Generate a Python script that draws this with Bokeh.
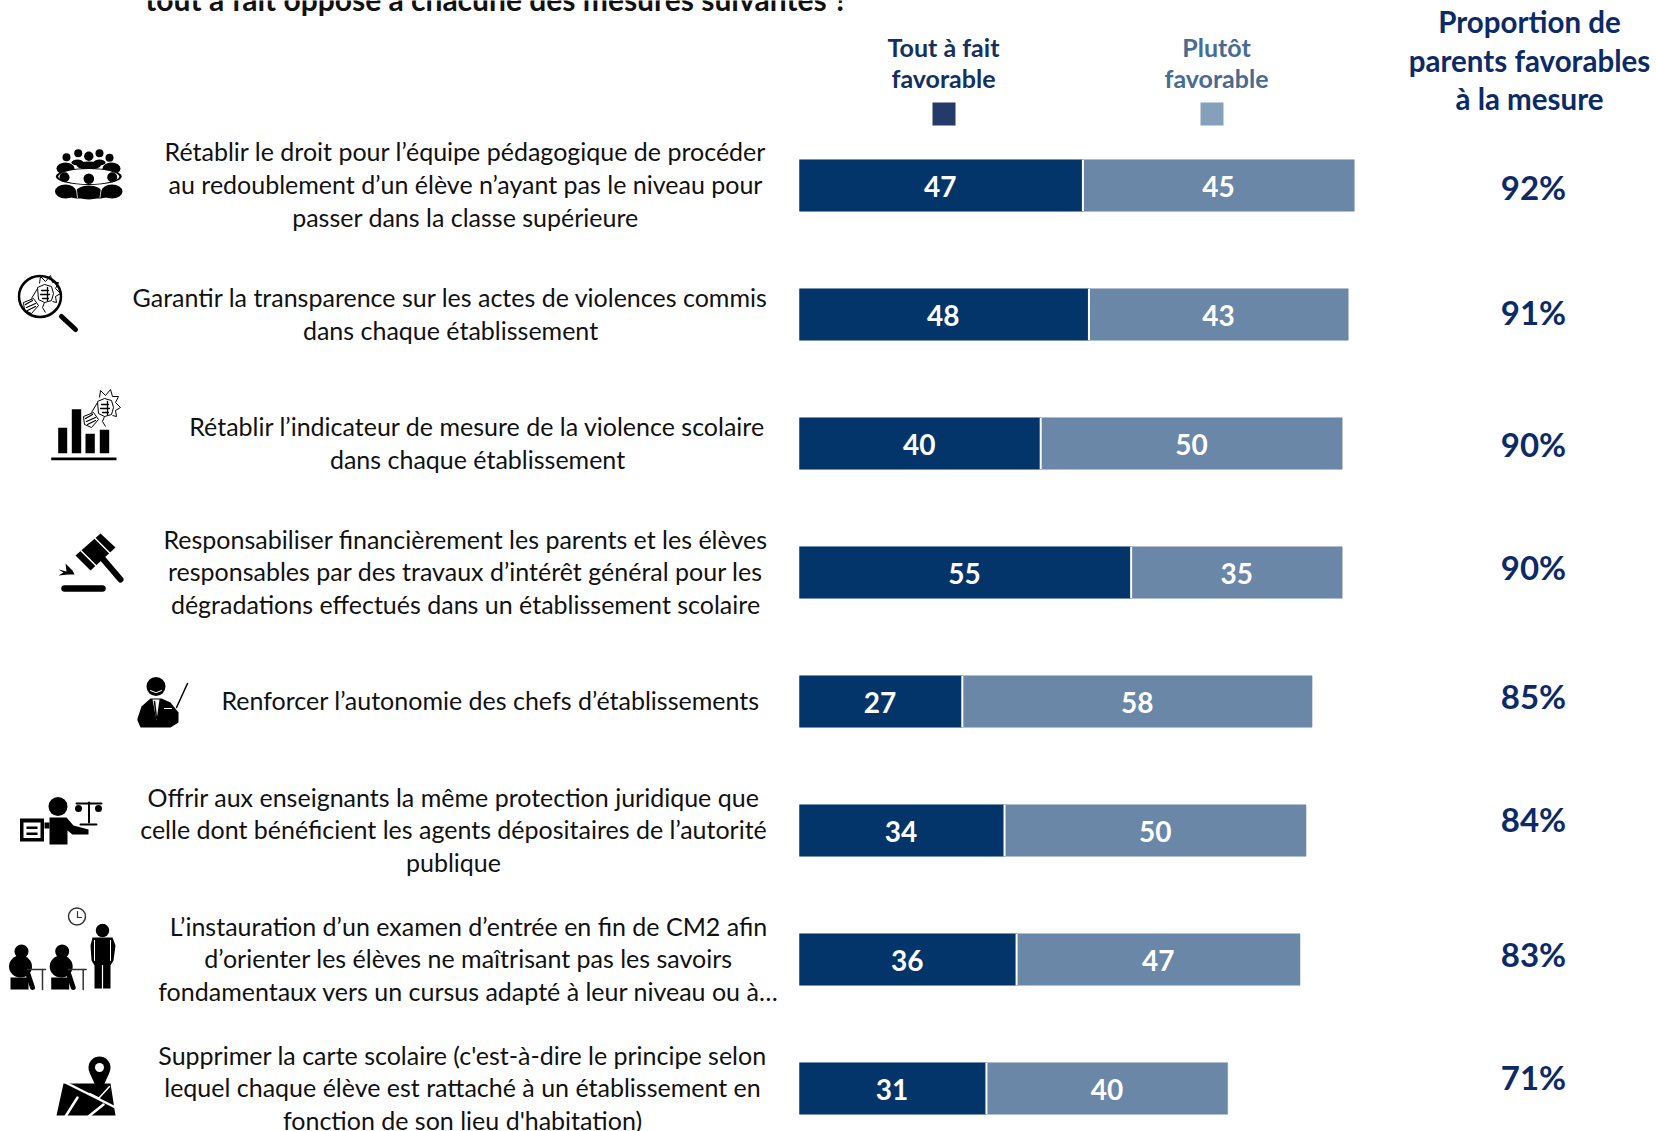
from bokeh.plotting import figure
from bokeh.embed import file_html
from bokeh.resources import INLINE
from bokeh.core.properties import value
from bokeh.models import Range1d

# ---- data ----
tout_a_fait = [47, 48, 40, 55, 27, 34, 36, 31]
plutot = [45, 43, 50, 35, 58, 50, 47, 40]
proportion = [92, 91, 90, 90, 85, 84, 83, 71]
measures = [
    ["Rétablir le droit pour l’équipe pédagogique de procéder",
     "au redoublement d’un élève n’ayant pas le niveau pour",
     "passer dans la classe supérieure"],
    ["Garantir la transparence sur les actes de violences commis",
     "dans chaque établissement"],
    ["Rétablir l’indicateur de mesure de la violence scolaire",
     "dans chaque établissement"],
    ["Responsabiliser financièrement les parents et les élèves",
     "responsables par des travaux d’intérêt général pour les",
     "dégradations effectués dans un établissement scolaire"],
    ["Renforcer l’autonomie des chefs d’établissements"],
    ["Offrir aux enseignants la même protection juridique que",
     "celle dont bénéficient les agents dépositaires de l’autorité",
     "publique"],
    ["L’instauration d’un examen d’entrée en fin de CM2 afin",
     "d’orienter les élèves ne maîtrisant pas les savoirs",
     "fondamentaux vers un cursus adapté à leur niveau ou à…"],
    ["Supprimer la carte scolaire (c'est-à-dire le principe selon",
     "lequel chaque élève est rattaché à un établissement en",
     "fonction de son lieu d'habitation)"],
]
title_text = "tout à fait opposé à chacune des mesures suivantes ?"
legend_dark = ["Tout à fait", "favorable"]
legend_light = ["Plutôt", "favorable"]
header_right = ["Proportion de", "parents favorables", "à la mesure"]

# ---- layout (pixels of the page) ----
W, H = 1656, 1131
X0, UNIT = 799.0, 6.03
Y0, PITCH = 185.0, 129.0
line_centre_x = [465, 450, 477, 465, 490, 453, 468, 462]
line_ys = [[150, 183, 216], [296, 329], [425, 458], [538, 570, 603], [699],
           [796, 828, 861], [925, 957, 990], [1054, 1086, 1119]]
pct_y = [186, 311, 443, 566, 695, 818, 953, 1076]

DARK, LIGHT = "#03356a", "#6a87a8"
NAVY = "#0b2a66"
FONT = value("Lato")

p = figure(width=W, height=H, output_backend="svg", toolbar_location=None,
           x_range=Range1d(-X0 / UNIT, (W - X0) / UNIT),
           y_range=Range1d((H - Y0) / PITCH, -Y0 / PITCH),
           min_border=0, outline_line_color=None)
p.axis.visible = False
p.grid.visible = False
p.background_fill_color = "white"
p.extra_x_ranges["px"] = Range1d(0, W)
p.extra_y_ranges["px"] = Range1d(H, 0)
PX = dict(x_range_name="px", y_range_name="px")

rows = list(range(len(tout_a_fait)))
BAR_H = 51.5 / PITCH
p.hbar(y=rows, left=0, right=tout_a_fait, height=BAR_H, fill_color=DARK,
       line_color=DARK, line_width=0.5)
p.hbar(y=rows, left=tout_a_fait, right=[a + b for a, b in zip(tout_a_fait, plutot)],
       height=BAR_H, fill_color=LIGHT, line_color=LIGHT, line_width=0.5)
p.segment(x0=tout_a_fait, x1=tout_a_fait, y0=[r - BAR_H / 2 for r in rows],
          y1=[r + BAR_H / 2 for r in rows], line_color="white", line_width=2)

val_style = dict(text_font=FONT, text_font_style="bold", text_font_size="28px",
                 text_color="white", text_align="center", text_baseline="middle")
p.text(x=[a / 2 - 0.15 for a in tout_a_fait], y=[r + 0.01 for r in rows],
       text=[str(a) for a in tout_a_fait], **val_style)
p.text(x=[a + b / 2 for a, b in zip(tout_a_fait, plutot)], y=[r + 0.01 for r in rows],
       text=[str(b) for b in plutot], **val_style)


def txt(xs, ys, texts, size, color, bold=False, align="center", baseline="middle"):
    p.text(x=xs, y=ys, text=texts, text_font=FONT, text_font_size=f"{size}px",
           text_color=color, text_font_style="bold" if bold else "normal",
           text_align=align, text_baseline=baseline, **PX)


for i, lines in enumerate(measures):
    txt([line_centre_x[i]] * len(lines), line_ys[i], lines, 25, "#111111")

txt([1533] * 8, pct_y, [f"{v}%" for v in proportion], 33, NAVY, bold=True)
txt([1529] * 3, [21, 60, 98], header_right, 29.5, NAVY, bold=True)
txt([943] * 2, [46, 77], legend_dark, 25, "#14305f", bold=True)
txt([1216] * 2, [46, 77], legend_light, 25, "#476b92", bold=True)
txt([496], [-2], [title_text], 30, "#111111", bold=True, baseline="alphabetic")

# legend squares (page pixels)
p.quad(left=[932], right=[955], top=[102], bottom=[125], fill_color="#243a6b", line_color=None, **PX)
p.quad(left=[1200], right=[1223], top=[102], bottom=[125], fill_color="#84a0ba", line_color=None, **PX)

# ---- pictograms ----
K = "#000000"


def circ(x, y, r, color=K, rx=None):
    p.ellipse(x=[x], y=[y], width=[2 * (rx or r)], height=[2 * r], fill_color=color,
              line_color=None, **PX)


def poly(xs, ys, color=K):
    p.patch(x=xs, y=ys, fill_color=color, line_color=None, **PX)


def seg(x0, y0, x1, y1, w=2.0, color=K):
    p.line(x=[x0, x1], y=[y0, y1], line_color=color, line_width=w, line_cap="round", **PX)


def rect(x0, y0, x1, y1, color=K):
    p.quad(left=[x0], right=[x1], top=[y0], bottom=[y1], fill_color=color, line_color=None, **PX)


def path(cx, cy, pts, w=1.0):
    p.line(x=[cx + a for a, _ in pts], y=[cy + b for _, b in pts], line_color=K, line_width=w, **PX)


def fist(cx, cy):
    path(cx, cy, [(-7, -6), (0, -9), (7, -7), (9, 0), (7, 7), (0, 9), (-6, 6), (-7, -6)])
    for a, b, c, d in [(-3, -3, 4, -3), (-4, 1, 5, 1), (-2, 5, 4, 5), (3, -6, 3, 7)]:
        seg(cx + a, cy + b, cx + c, cy + d, 1.3)
    path(cx, cy, [(-5, -10), (-4, -17), (1, -12), (6, -18), (8, -11), (14, -11),
                  (11, -5), (16, 0), (11, 3), (12, 9), (8, 8)])
    path(cx, cy, [(-7, -5), (-13, 5)])
    path(cx, cy, [(0, 9), (-2, 14), (1, 19)])
    path(cx, cy, [(-21, 9), (-11, 5), (-6, 12), (-13, 20), (-20, 17), (-21, 9)])
    for a, b, c, d in [(-19, 11, -12, 7), (-18, 14, -9, 10), (-17, 17, -9, 13)]:
        seg(cx + a, cy + b, cx + c, cy + d, 1.2)


# 1: people around a table
for hx, hy, hr in [(66, 156.7, 4), (77.7, 152.7, 4), (88.3, 155.7, 4.7), (99, 152.7, 4), (109, 157.3, 4)]:
    circ(hx, hy, hr)
circ(65, 168, 6, rx=9); circ(111, 168, 6, rx=9); circ(88.3, 165, 4, rx=12)
circ(77, 162, 3, rx=6); circ(99, 162, 3, rx=6)
circ(88.3, 176, 8.5, rx=33)
circ(88.3, 176, 7.5, "white", rx=30.5)
for hx, hy, hr in [(64, 176.7, 5), (88.3, 178.3, 5.3), (111.7, 176.7, 5)]:
    circ(hx, hy, hr)
circ(65, 191, 7, rx=10.5); circ(111.5, 191, 7, rx=10.5); circ(88.3, 192, 7, rx=13)
poly([56, 120, 112, 100, 76, 64], [190, 190, 196, 198, 198, 196])
seg(75.5, 186, 77, 197, 0.8, "white"); seg(101, 186, 99.5, 197, 0.8, "white")

# 2: magnifier with a fist
p.ellipse(x=[39.5], y=[296], width=[42], height=[41], fill_color=None, line_color=K, line_width=2.5, **PX)
seg(61, 316, 75, 329, 5)
fist(44, 293)

# 3: bar chart with a fist
for x0, y0, x1, y1 in [(57.7, 427.3, 66.7, 452.7), (71.3, 408.7, 80.7, 452.7),
                       (85, 433.3, 94.3, 452.7), (99.3, 429.3, 108.7, 452.7)]:
    rect(x0, y0, x1, y1)
rect(50.7, 457, 116, 459.8)
fist(104, 407)

# 4: gavel
poly([75, 100, 115, 90], [555, 533, 547, 570])
seg(80.5, 550.2, 95.5, 565.2, 1.5, "white")
seg(94.5, 537.8, 109.5, 552.8, 1.5, "white")
seg(102.5, 558.5, 120, 579, 6)
seg(64, 588, 102, 588, 6.5)
poly([58, 66, 65, 72, 74, 68, 58, 63], [569, 571, 563, 570, 574, 574, 575, 572])

# 5: headmaster
circ(155.5, 686, 9.5)
seg(150, 690, 155, 692, 1, "white"); seg(156, 692, 161, 690, 1, "white")
poly([137, 141, 150, 161, 170, 178, 178, 170, 140, 137], [718, 706, 698, 698, 702, 712, 722, 727, 727, 720])
poly([152, 159, 156], [699, 699, 720], "white")
seg(154, 701, 156, 718, 1.5, K)
seg(164, 708, 171, 708, 1, "white")
seg(176, 707, 187, 683, 1.5)

# 6: lawyer with clipboard and scales
circ(57.5, 806, 9.5)
poly([49, 66, 73, 88, 88, 72, 67, 67, 49], [817, 817, 825, 829, 834, 834, 830, 844, 844])
rect(19.5, 818, 43.5, 841)
rect(23, 822, 40, 837.5, "white")
rect(26, 826, 37, 828.5); rect(26, 832, 37, 834.5)
rect(44, 822, 49, 828)
seg(88.5, 802, 88.5, 822, 2); seg(80, 824, 96, 824, 2); seg(76, 803, 101, 803, 2)
circ(78, 808, 3.5); circ(98, 808, 3.5)

# 7: exam room
p.ellipse(x=[76.5], y=[916], width=[17], height=[17], fill_color=None, line_color="#333333", line_width=1.5, **PX)
seg(77, 911, 77, 917, 1.2, "#333333"); seg(77, 917, 81, 917, 1.2, "#333333")
for dx in (0, 40.7):
    circ(21 + dx, 951, 7)
    circ(20 + dx, 966, 11, rx=11.5)
    rect(10 + dx, 977, 28 + dx, 989)
    seg(27 + dx, 972, 32 + dx, 987, 5)
    seg(27 + dx, 969, 45 + dx, 969, 1.5, "#333333")
    seg(42 + dx, 969, 42 + dx, 989, 1.5, "#333333")
circ(102, 930, 6.7)
poly([92, 112, 115, 113, 110, 110, 94, 94, 91, 90], [937, 937, 945, 960, 965, 988, 988, 965, 960, 945])
seg(102, 965, 102, 988, 1.2, "white")
seg(94, 940, 94, 960, 1, "white"); seg(110, 940, 110, 960, 1, "white")

# 8: map with a pin
poly([63, 110, 115, 56], [1083, 1083, 1115, 1115])
circ(99, 1067, 11)
poly([89, 109, 99], [1072, 1072, 1094])
circ(99, 1067, 4.5, "white")
seg(63, 1081, 115, 1107, 2.5, "white")
seg(77, 1097, 65, 1116, 2.5, "white")
seg(103, 1104, 88, 1116, 2.5, "white")
seg(89, 1093, 99, 1098, 1.5, "white"); seg(109, 1086, 99, 1097, 1.5, "white")

open("out.html", "w").write(file_html(p, INLINE))
